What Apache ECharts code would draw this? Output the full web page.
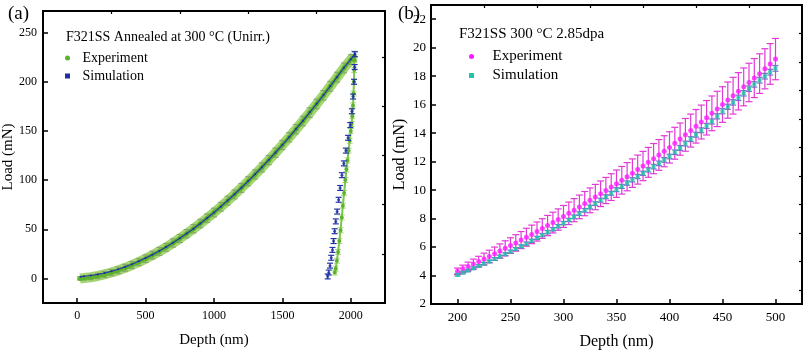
<!DOCTYPE html>
<html>
<head>
<meta charset="utf-8">
<script src="https://cdn.jsdelivr.net/npm/echarts@6/dist/echarts.min.js"></script>
<style>
html, body { margin: 0; padding: 0; background: #fff; }
#main { width: 809px; height: 351px; }
</style>
</head>
<body>
<div id="main"></div>
<script>
// ---- (a) F321SS annealed, load-depth curve ----
var expLoadDepthA = [20, 50, 100, 150, 200, 250, 300, 350, 400, 450, 500, 550, 600, 650, 700, 750, 800, 850, 900, 950,
    1000, 1050, 1100, 1150, 1200, 1250, 1300, 1350, 1400, 1450, 1500, 1550, 1600, 1650, 1700, 1750, 1800, 1850, 1900, 1950, 2000, 2025];
var expLoadA = [0, 0.4, 1.2, 2.5, 4.1, 6.0, 8.2, 10.8, 13.6, 16.7, 20.1, 23.7, 27.5, 31.6, 36.0, 40.6, 45.5, 50.5, 55.8, 61.3,
    67.0, 72.9, 79.1, 85.4, 92.0, 98.8, 105.8, 112.9, 120.3, 127.9, 135.7, 143.6, 151.8, 160.1, 168.7, 177.4, 186.3, 195.4, 204.7, 214.1, 222.5, 226.0];
var expLoadErrA = [1.5, 2, 2.5, 2.8, 3, 3.2, 3.4, 3.5, 3.6, 3.7, 3.8, 3.9, 4, 4, 4.1, 4.1, 4.2, 4.2, 4.3, 4.3,
    4.4, 4.4, 4.5, 4.5, 4.5, 4.6, 4.6, 4.6, 4.7, 4.7, 4.7, 4.8, 4.8, 4.8, 4.9, 4.9, 4.9, 5, 5, 5, 5, 5];
var expUnDepthA = [2026, 2025, 2023, 2020, 2016, 2011, 2006, 2000, 1992, 1984, 1976, 1968, 1960, 1951, 1942, 1934, 1925, 1916, 1907, 1898, 1890, 1883];
var expUnA = [222, 212, 200, 188, 176, 165, 157, 150, 140, 130, 120, 111, 100, 87, 74, 62, 49, 38, 27, 18, 10, 6];

var simLoadDepthA = [25, 50, 100, 150, 200, 250, 300, 350, 400, 450, 500, 550, 600, 650, 700, 750, 800, 850, 900, 950,
    1000, 1050, 1100, 1150, 1200, 1250, 1300, 1350, 1400, 1450, 1500, 1550, 1600, 1650, 1700, 1750, 1800, 1850, 1900, 1950, 2000, 2030];
var simLoadA = [1.8, 2.2, 3.0, 4.1, 5.5, 7.2, 9.3, 11.7, 14.4, 17.4, 20.7, 24.2, 27.9, 31.9, 36.2, 40.8, 45.6, 50.6, 55.9, 61.4,
    67.1, 73.0, 79.2, 85.6, 92.2, 99.0, 106.0, 113.1, 120.5, 128.1, 135.9, 143.8, 152.0, 160.3, 168.9, 177.6, 186.5, 195.6, 204.9, 214.3, 222.8, 228.0];
var simUnDepthA = [2030, 2028, 2024, 2017, 2008, 1996, 1980, 1964, 1949, 1935, 1922, 1911, 1900, 1890, 1882, 1874, 1866, 1857, 1848, 1839, 1831];
var simUnA = [228, 215, 200, 185, 170, 156, 143, 130, 117, 105, 92, 80, 68, 58, 48, 38, 29, 21, 13, 6, 2];

var xTicksA = [0, 500, 1000, 1500, 2000];
var xMinorA = [250, 750, 1250, 1750];
var yTicksA = [0, 50, 100, 150, 200, 250];
var yMinorA = [25, 75, 125, 175, 225];

// ---- (b) F321SS 300 °C 2.85dpa ----
var depthB = [200, 205, 210, 215, 220, 225, 230, 235, 240, 245, 250, 255, 260, 265, 270, 275, 280, 285, 290, 295,
    300, 305, 310, 315, 320, 325, 330, 335, 340, 345, 350, 355, 360, 365, 370, 375, 380, 385, 390, 395,
    400, 405, 410, 415, 420, 425, 430, 435, 440, 445, 450, 455, 460, 465, 470, 475, 480, 485, 490, 495, 500];
var expLoadB = [4.30, 4.47, 4.64, 4.81, 4.98, 5.16, 5.34, 5.53, 5.72, 5.91, 6.10, 6.29, 6.49, 6.69, 6.89, 7.09, 7.30, 7.51, 7.72, 7.93,
    8.15, 8.37, 8.59, 8.82, 9.05, 9.28, 9.51, 9.74, 9.97, 10.21, 10.45, 10.69, 10.94, 11.19, 11.44, 11.69, 11.95, 12.21, 12.47, 12.73,
    13.00, 13.29, 13.58, 13.88, 14.18, 14.48, 14.78, 15.08, 15.39, 15.70, 16.01, 16.32, 16.63, 16.94, 17.25, 17.56, 17.87, 18.18, 18.52, 18.86, 19.20];
var expErrB = [0.22, 0.26, 0.30, 0.34, 0.37, 0.41, 0.44, 0.47, 0.50, 0.53, 0.55, 0.58, 0.60, 0.63, 0.65, 0.67, 0.69, 0.71, 0.73, 0.75,
    0.77, 0.79, 0.81, 0.83, 0.85, 0.87, 0.89, 0.90, 0.92, 0.94, 0.96, 0.97, 0.99, 1.00, 1.02, 1.03, 1.05, 1.06, 1.08, 1.09,
    1.10, 1.12, 1.13, 1.15, 1.16, 1.18, 1.19, 1.21, 1.22, 1.24, 1.25, 1.27, 1.29, 1.31, 1.33, 1.35, 1.37, 1.39, 1.41, 1.43, 1.45];
var simLoadB = [4.05, 4.20, 4.35, 4.51, 4.67, 4.83, 4.99, 5.16, 5.33, 5.50, 5.68, 5.86, 6.05, 6.24, 6.44, 6.64, 6.84, 7.05, 7.25, 7.46,
    7.68, 7.90, 8.12, 8.35, 8.58, 8.81, 9.05, 9.29, 9.53, 9.78, 10.03, 10.26, 10.49, 10.72, 10.95, 11.18, 11.42, 11.65, 11.88, 12.12,
    12.36, 12.66, 12.96, 13.27, 13.58, 13.89, 14.20, 14.51, 14.82, 15.18, 15.54, 15.85, 16.16, 16.48, 16.80, 17.12, 17.42, 17.72, 18.00, 18.28, 18.55];
var simErrB = [0.08, 0.08, 0.08, 0.09, 0.09, 0.09, 0.09, 0.10, 0.10, 0.10, 0.10, 0.10, 0.11, 0.11, 0.11, 0.11, 0.11, 0.12, 0.12, 0.12,
    0.12, 0.12, 0.13, 0.13, 0.13, 0.13, 0.13, 0.14, 0.14, 0.14, 0.14, 0.14, 0.15, 0.15, 0.15, 0.15, 0.15, 0.16, 0.16, 0.16,
    0.16, 0.16, 0.17, 0.17, 0.17, 0.17, 0.17, 0.18, 0.18, 0.18, 0.18, 0.18, 0.19, 0.19, 0.19, 0.19, 0.19, 0.20, 0.20, 0.20, 0.20];

var xTicksB = [200, 250, 300, 350, 400, 450, 500];
var xMinorB = [225, 275, 325, 375, 425, 475];
var yTicksB = [2, 4, 6, 8, 10, 12, 14, 16, 18, 20, 22];
var yMinorB = [3, 5, 7, 9, 11, 13, 15, 17, 19, 21];

var FONT = 'Liberation Serif';

function pairs(xs, ys) {
    return xs.map(function (x, i) { return [x, ys[i]]; });
}
function bars(xs, ys, errs) {
    return xs.map(function (x, i) { return [x, ys[i] - errs[i], ys[i] + errs[i]]; });
}
function constBars(xs, ys, e) {
    return xs.map(function (x, i) { return [x, ys[i] - e, ys[i] + e]; });
}

// 误差棒
function errorBar(capHalf, color, width) {
    return function (params, api) {
        var x = api.value(0);
        var lo = api.coord([x, api.value(1)]);
        var hi = api.coord([x, api.value(2)]);
        var style = { stroke: color, lineWidth: width, fill: null };
        return {
            type: 'group',
            children: [
                { type: 'line', shape: { x1: lo[0], y1: lo[1], x2: hi[0], y2: hi[1] }, style: style },
                { type: 'line', shape: { x1: lo[0] - capHalf, y1: lo[1], x2: lo[0] + capHalf, y2: lo[1] }, style: style },
                { type: 'line', shape: { x1: hi[0] - capHalf, y1: hi[1], x2: hi[0] + capHalf, y2: hi[1] }, style: style }
            ]
        };
    };
}

function mainAxis(grid, min, max, ticks, name, gap, fs, lfs, labelMargin) {
    return {
        type: 'value', gridIndex: grid, min: min, max: max,
        name: name, nameLocation: 'middle', nameGap: gap,
        nameTextStyle: { fontFamily: FONT, fontSize: fs, color: '#000' },
        axisLine: { show: true, onZero: false, lineStyle: { color: '#000', width: 2 } },
        axisTick: { show: true, inside: true, length: 5, customValues: ticks, lineStyle: { color: '#000', width: 1.5 } },
        axisLabel: {
            customValues: ticks, fontFamily: FONT, fontSize: lfs, color: '#000', margin: labelMargin,
            formatter: function (v) { return String(v); }
        },
        splitLine: { show: false }
    };
}
function minorAxis(grid, min, max, ticks) {
    return {
        type: 'value', gridIndex: grid, min: min, max: max,
        axisLine: { show: false, onZero: false },
        axisTick: { show: true, inside: true, length: 3, customValues: ticks, lineStyle: { color: '#000', width: 1.2 } },
        axisLabel: { show: false },
        splitLine: { show: false }
    };
}

var SQUARE = 'path://M0,0L10,0L10,10L0,10Z';

var chart = echarts.init(document.getElementById('main'));

var option = {
    animation: false,
    title: [
        { text: '(a)', left: 3, top: 0, textStyle: { fontFamily: FONT, fontSize: 19, fontWeight: 'normal', color: '#000' } },
        { text: '(b)', left: 393, top: 0, textStyle: { fontFamily: FONT, fontSize: 19, fontWeight: 'normal', color: '#000' } },
        { text: 'F321SS Annealed at 300 °C (Unirr.)', left: 61, top: 25, textStyle: { fontFamily: FONT, fontSize: 14, fontWeight: 'normal', color: '#000' } },
        { text: 'F321SS 300 °C 2.85dpa', left: 454, top: 22, textStyle: { fontFamily: FONT, fontSize: 15, fontWeight: 'normal', color: '#000' } }
    ],
    legend: [
        {
            orient: 'vertical', left: 60, top: 46, itemGap: 4, itemWidth: 20, itemHeight: 5,
            textStyle: { fontFamily: FONT, fontSize: 14, color: '#000' },
            data: [
                { name: 'Experiment', icon: 'circle', itemStyle: { color: '#5cb32b' } },
                { name: 'Simulation', icon: 'path://M3,3L7,3L7,7L3,7Z', itemStyle: { color: '#1f2f9f' } }
            ],
            selectedMode: false
        },
        {
            orient: 'vertical', left: 464, top: 44, itemGap: 4, itemWidth: 32, itemHeight: 5,
            textStyle: { fontFamily: FONT, fontSize: 15, color: '#000' },
            data: [
                { name: 'Experiment', icon: 'circle', itemStyle: { color: '#ff1aff' } },
                { name: 'Simulation', icon: SQUARE, itemStyle: { color: '#1fc4aa' } }
            ],
            selectedMode: false
        }
    ],
    grid: [
        { left: 43, top: 11, width: 342, height: 292, show: true, borderColor: '#000', borderWidth: 2, containLabel: false, outerBoundsMode: 'none' },
        { left: 431, top: 5, width: 371, height: 299, show: true, borderColor: '#000', borderWidth: 2, containLabel: false, outerBoundsMode: 'none' }
    ],
    xAxis: [
        mainAxis(0, -250, 2250, xTicksA, 'Depth (nm)', 30, 15, 12, 7),
        minorAxis(0, -250, 2250, xMinorA),
        mainAxis(1, 175, 525, xTicksB, 'Depth (nm)', 30, 16, 13, 7),
        minorAxis(1, 175, 525, xMinorB)
    ],
    yAxis: [
        mainAxis(0, -25, 272, yTicksA, 'Load (mN)', 24, 15, 12, 6),
        minorAxis(0, -25, 272, yMinorA),
        mainAxis(1, 2, 23, yTicksB, 'Load (mN)', 23, 16, 13, 5),
        minorAxis(1, 2, 23, yMinorB)
    ],
    series: [
        // (a) experiment loading: light-green error band + green points
        {
            name: 'Experiment', type: 'line', xAxisIndex: 0, yAxisIndex: 0,
            data: pairs(expLoadDepthA, expLoadA),
            lineStyle: { color: '#a6d672', width: 10 },
            symbol: 'none', z: 2
        },
        {
            name: 'expLoadErr', type: 'custom', xAxisIndex: 0, yAxisIndex: 0,
            data: bars(expLoadDepthA, expLoadA, expLoadErrA),
            encode: { x: 0, y: [1, 2] },
            renderItem: errorBar(3, '#879f74', 1), z: 3
        },
        {
            name: 'Experiment', type: 'line', xAxisIndex: 0, yAxisIndex: 0,
            data: pairs(expLoadDepthA, expLoadA),
            lineStyle: { color: '#5cb32b', width: 4 },
            symbol: 'circle', symbolSize: 5, showAllSymbol: true,
            itemStyle: { color: '#5cb32b' }, z: 4
        },
        // (a) experiment unloading
        {
            name: 'expUnErr', type: 'custom', xAxisIndex: 0, yAxisIndex: 0,
            data: constBars(expUnDepthA, expUnA, 2.5),
            encode: { x: 0, y: [1, 2] },
            renderItem: errorBar(3, '#a6d672', 1), z: 3
        },
        {
            name: 'Experiment', type: 'line', xAxisIndex: 0, yAxisIndex: 0,
            data: pairs(expUnDepthA, expUnA),
            lineStyle: { color: '#7cc44a', width: 2 },
            symbol: 'circle', symbolSize: 4, showAllSymbol: true,
            itemStyle: { color: '#5cb32b' }, z: 4
        },
        // (a) simulation
        {
            name: 'Simulation', type: 'line', xAxisIndex: 0, yAxisIndex: 0,
            data: pairs(simLoadDepthA, simLoadA),
            lineStyle: { color: '#2a3aa8', width: 1.2 },
            symbol: 'circle', symbolSize: 2, showAllSymbol: true,
            itemStyle: { color: '#1f2f9f' }, z: 6
        },
        {
            name: 'simUnErr', type: 'custom', xAxisIndex: 0, yAxisIndex: 0,
            data: constBars(simUnDepthA, simUnA, 2.5),
            encode: { x: 0, y: [1, 2] },
            renderItem: errorBar(3, '#2035a8', 1.2), z: 6
        },
        {
            name: 'Simulation', type: 'scatter', xAxisIndex: 0, yAxisIndex: 0,
            data: pairs(simUnDepthA, simUnA),
            symbol: 'circle', symbolSize: 3,
            itemStyle: { color: '#1f2f9f' }, z: 7
        },
        // (b) experiment
        {
            name: 'expErrB', type: 'custom', xAxisIndex: 2, yAxisIndex: 2,
            data: bars(depthB, expLoadB, expErrB),
            encode: { x: 0, y: [1, 2] },
            renderItem: errorBar(3.5, '#e03ad6', 1.2), z: 3
        },
        {
            name: 'Experiment', type: 'scatter', xAxisIndex: 2, yAxisIndex: 2,
            data: pairs(depthB, expLoadB),
            symbol: 'circle', symbolSize: 5,
            itemStyle: { color: '#ff1aff' }, z: 4
        },
        // (b) simulation
        {
            name: 'simErrB', type: 'custom', xAxisIndex: 2, yAxisIndex: 2,
            data: bars(depthB, simLoadB, simErrB),
            encode: { x: 0, y: [1, 2] },
            renderItem: errorBar(3, '#7a70c8', 1.2), z: 5
        },
        {
            name: 'Simulation', type: 'scatter', xAxisIndex: 2, yAxisIndex: 2,
            data: pairs(depthB, simLoadB),
            symbol: 'rect', symbolSize: 4,
            itemStyle: { color: '#1fc4aa' }, z: 6
        }
    ]
};

chart.setOption(option);
</script>
</body>
</html>
